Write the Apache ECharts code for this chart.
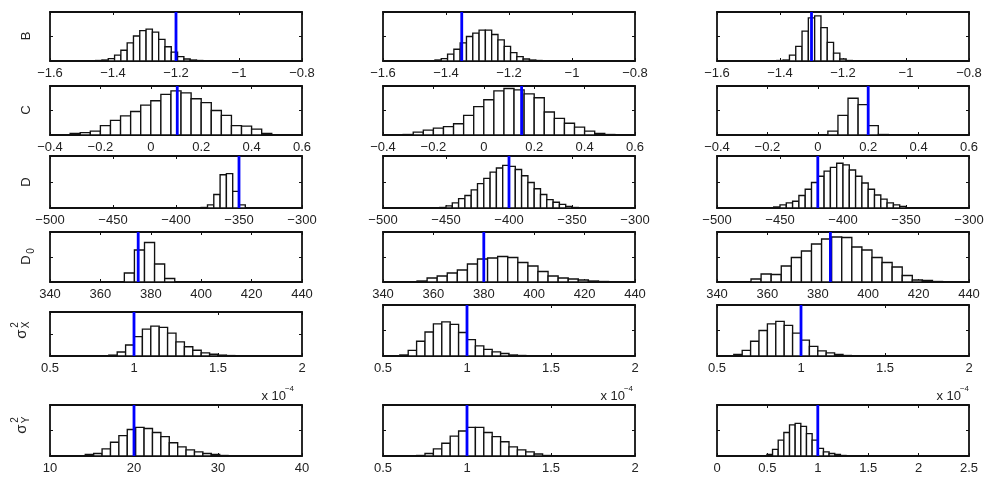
<!DOCTYPE html>
<html><head><meta charset="utf-8">
<script src="https://cdn.jsdelivr.net/npm/echarts@6/dist/echarts.min.js"></script>
<style>html,body{margin:0;padding:0;background:#fff}#c{width:990px;height:486px}</style>
</head><body><div id="c"></div>
<script>
// ---------------- DATA (bar heights in % of panel height) ----------------
// Row B
const B_range = [-1.6, -0.8, 0.2];
const B_true = [-1.2, -1.35, -1.3];
const B_start = [-1.455, -1.435, -1.41];
const B_width = [0.02, 0.02, 0.02];
const B_col1 = [1, 2, 5, 12, 22, 37, 51, 62, 65, 59, 44, 29, 18, 9, 4, 2, 1];
const B_col2 = [2, 5, 14, 24, 37, 50, 57, 63, 63, 54, 43, 30, 17, 9, 4, 2, 1];
const B_col3 = [1, 2, 12, 30, 61, 88, 92, 68, 38, 16, 4, 1];
// Row C
const C_range = [-0.4, 0.6, 0.2];
const C_true = [0.105, 0.15, 0.2];
const C_start = [-0.32, -0.32, 0.04];
const C_width = [0.04, 0.04, 0.04];
const C_col1 = [3, 5, 8, 19, 30, 39, 48, 61, 70, 83, 90, 86, 74, 66, 50, 40, 19, 18, 12, 3];
const C_col2 = [1, 6, 10, 14, 17, 23, 40, 58, 72, 90, 95, 92, 84, 76, 47, 34, 24, 16, 8, 3, 1];
const C_col3 = [8, 40, 75, 62, 19, 1];
// Row D
const D_range = [-500, -300, 50];
const D_true = [-350, -400, -420];
const D_start = [-380, -455, -455];
const D_width = [5, 5, 5];
const D_col1 = [1, 6, 26, 64, 66, 32, 6];
const D_col2 = [1, 4, 10, 18, 24, 35, 47, 57, 69, 77, 82, 80, 74, 62, 49, 37, 26, 16, 11, 7, 3, 1];
const D_col3 = [2, 6, 10, 13, 24, 36, 49, 61, 71, 78, 86, 83, 73, 61, 48, 36, 25, 17, 10, 6, 3];
// Row D0
const D0_range = [340, 440, 20];
const D0_true = [375, 380, 385];
const D0_start = [369.5, 353.5, 353.5];
const D0_width = [4, 4, 4];
const D0_col1 = [18, 64, 79, 36, 7];
const D0_col2 = [2, 8, 12, 18, 24, 36, 46, 48, 51, 49, 39, 32, 21, 12, 8, 6, 4, 2, 1];
const D0_col3 = [6, 16, 15, 32, 49, 62, 76, 86, 90, 89, 70, 64, 49, 39, 30, 13, 4, 3, 1];
// Row sigma_X^2
const SX_range = [0.5, 2, 0.5];
const SX_true = [1, 1, 1];
const SX_start = [0.85, 0.6, 0.6];
const SX_width = [0.05, 0.05, 0.05];
const SX_col1 = [2, 9, 25, 44, 61, 68, 65, 52, 32, 21, 13, 7, 4, 2, 1];
const SX_col2 = [2, 11, 29, 47, 63, 67, 62, 46, 32, 20, 13, 8, 5, 2, 1];
const SX_col3 = [3, 11, 29, 50, 63, 68, 60, 45, 31, 19, 10, 6, 3, 1];
// Row sigma_Y^2 (x 10^-4)
const SY_ranges = [[10, 40, 10], [0.5, 2, 0.5], [0, 2.5, 0.5]];
const SY_true = [20, 1, 1];
const SY_start = [14.2, 0.7, 0.495];
const SY_width = [1, 0.05, 0.0561];
const SY_col1 = [3, 5, 14, 27, 40, 52, 56, 54, 46, 38, 26, 18, 12, 8, 5, 3, 1];
const SY_col2 = [1, 5, 14, 25, 39, 49, 56, 56, 46, 38, 28, 18, 12, 8, 4, 1];
const SY_col3 = [3, 13, 31, 46, 61, 64, 58, 44, 31, 15, 8, 5, 3, 1];

// ---------------- LAYOUT ----------------
const colLeft = [50, 383, 717];
const panelW = 252;
const rowTop = [12, 86, 156, 232, 305, 405];
const rowBot = [61, 135, 208, 282, 356, 456];
const FONT = 'Liberation Sans, Arial, Helvetica, sans-serif';

const rows = [
  {ranges: [B_range, B_range, B_range], tru: B_true, start: B_start, width: B_width, counts: [B_col1, B_col2, B_col3]},
  {ranges: [C_range, C_range, C_range], tru: C_true, start: C_start, width: C_width, counts: [C_col1, C_col2, C_col3]},
  {ranges: [D_range, D_range, D_range], tru: D_true, start: D_start, width: D_width, counts: [D_col1, D_col2, D_col3]},
  {ranges: [D0_range, D0_range, D0_range], tru: D0_true, start: D0_start, width: D0_width, counts: [D0_col1, D0_col2, D0_col3]},
  {ranges: [SX_range, SX_range, SX_range], tru: SX_true, start: SX_start, width: SX_width, counts: [SX_col1, SX_col2, SX_col3]},
  {ranges: SY_ranges, tru: SY_true, start: SY_start, width: SY_width, counts: [SY_col1, SY_col2, SY_col3]}
];

function fmt(v) {
  const s = String(Math.round(v * 1e6) / 1e6);
  return s.replace('-', '\u2212');
}

const grid = [], xAxis = [], yAxis = [], series = [];
let gi = 0;
rows.forEach((row, r) => {
  for (let c = 0; c < 3; c++) {
    let top = rowTop[r];
    if (r === 4 && c === 0) top = 312;
    grid.push({left: colLeft[c], top: top, width: panelW, height: rowBot[r] - top});
    const rg = row.ranges[c];
    const lineStyle = {color: '#111', width: 1.8};
    const tick = {show: true, inside: true, length: 3, lineStyle: {color: '#111', width: 1}};
    xAxis.push({gridIndex: gi, type: 'value', min: rg[0], max: rg[1], interval: rg[2], position: 'bottom',
      axisLine: {show: true, onZero: false, lineStyle}, axisTick: tick, splitLine: {show: false},
      axisLabel: {show: true, formatter: fmt, fontSize: 13, fontFamily: FONT, color: '#222', margin: 6,
        showMinLabel: true, showMaxLabel: true, hideOverlap: false}});
    xAxis.push({gridIndex: gi, type: 'value', min: rg[0], max: rg[1], interval: rg[2], position: 'top',
      axisLine: {show: true, onZero: false, lineStyle}, axisTick: tick, splitLine: {show: false},
      axisLabel: {show: false}});
    yAxis.push({gridIndex: gi, type: 'value', min: 0, max: 100, interval: 50, position: 'left',
      axisLine: {show: true, onZero: false, lineStyle}, axisTick: tick, splitLine: {show: false}, axisLabel: {show: false}});
    yAxis.push({gridIndex: gi, type: 'value', min: 0, max: 100, interval: 50, position: 'right',
      axisLine: {show: true, onZero: false, lineStyle}, axisTick: tick, splitLine: {show: false}, axisLabel: {show: false}});
    const st = row.start[c], w = row.width[c];
    const data = row.counts[c].map((h, i) => [st + i * w, st + (i + 1) * w, h]);
    series.push({
      type: 'custom', xAxisIndex: 2 * gi, yAxisIndex: 2 * gi, z: 2, silent: true,
      encode: {x: [0, 1], y: 2},
      data: data,
      renderItem: function (params, api) {
        const p0 = api.coord([api.value(0), api.value(2)]);
        const p1 = api.coord([api.value(1), 0]);
        const cs = params.coordSys;
        const rect = echarts.graphic.clipRectByRect(
          {x: p0[0], y: p0[1], width: p1[0] - p0[0], height: p1[1] - p0[1]},
          {x: cs.x, y: cs.y, width: cs.width, height: cs.height});
        return rect && {type: 'rect', shape: rect, style: {fill: '#fff', stroke: '#111', lineWidth: 1.35}};
      }
    });
    series.push({
      type: 'line', xAxisIndex: 2 * gi, yAxisIndex: 2 * gi, z: 4, silent: true,
      symbol: 'none', data: [[row.tru[c], 0], [row.tru[c], 100]],
      lineStyle: {color: '#0000ff', width: 2.8}
    });
    gi++;
  }
});

function txt(x, y, text, size, extra) {
  return Object.assign({type: 'text', x: x, y: y, style: Object.assign({text: text, fill: '#222',
    fontSize: size, fontFamily: FONT, align: 'center', verticalAlign: 'middle',
    textAlign: 'center', textVerticalAlign: 'middle'}, extra || {})});
}
const R = Math.PI / 2;
const graphic = [
  Object.assign(txt(26, 36, 'B', 13), {rotation: R}),
  Object.assign(txt(26, 110, 'C', 13), {rotation: R}),
  Object.assign(txt(26, 182, 'D', 13), {rotation: R}),
  {type: 'group', x: 26, y: 257, rotation: R, children: [
    txt(-3, 0, 'D', 13), txt(6, 5, '0', 10)]},
  {type: 'group', x: 21, y: 329, rotation: R, children: [
    txt(-5, 1, '\u03c3', 15), txt(4, -6, '2', 10), txt(4, 5, 'X', 10)]},
  {type: 'group', x: 21, y: 424, rotation: R, children: [
    txt(-5, 1, '\u03c3', 15), txt(4, -6, '2', 10), txt(4, 5, 'Y', 10)]}
];
const expRight = [294, 633, 969];
expRight.forEach(xr => {
  graphic.push(txt(xr - 8, 396, 'x 10', 13, {align: 'right', textAlign: 'right'}));
  graphic.push(txt(xr, 389, '\u22124', 8, {align: 'right', textAlign: 'right'}));
});

const chart = echarts.init(document.getElementById('c'), null, {renderer: 'canvas'});
chart.setOption({animation: false, backgroundColor: '#fff', grid, xAxis, yAxis, series, graphic});
</script></body></html>
